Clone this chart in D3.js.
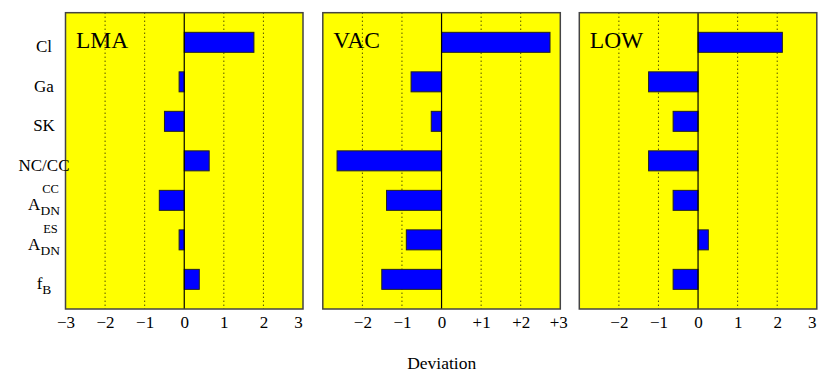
<!DOCTYPE html>
<html>
<head>
<meta charset="utf-8">
<script src="https://cdn.jsdelivr.net/npm/d3@7"></script>
<style>
  body { margin: 0; background: #fff; }
  svg text { font-family: "Liberation Serif", "DejaVu Serif", serif; fill: #000; }
</style>
</head>
<body>
<div id="chart"></div>
<script>
// data
var categories = ['Cl', 'Ga', 'SK', 'NC/CC', 'A_CC', 'A_ES', 'fB'];
var panelNames = ['LMA', 'VAC', 'LOW'];
var lmaValues = [1.76, -0.13, -0.5, 0.63, -0.63, -0.13, 0.38];
var vacValues = [2.74, -0.77, -0.26, -2.64, -1.39, -0.89, -1.51];
var lowValues = [2.13, -1.25, -0.63, -1.25, -0.63, 0.26, -0.63];
var lmaTicks = [-3, -2, -1, 0, 1, 2, 3];
var vacTicks = [-2, -1, 0, 1, 2, 3];
var lowTicks = [-2, -1, 0, 1, 2, 3];
var gridTicks = [-2, -1, 1, 2];
var xDomain = [-3, 3];

var W = 830, H = 380;
// note: "top" is taken by window.top, so plotTop
var plotTop = 12.7, plotBottom = 309;
var panelLeft = [65.5, 322.8, 579.3];
var panelW = 237.5;

var svg = d3.select('#chart').append('svg')
  .attr('width', W)
  .attr('height', H);

var y = d3.scalePoint().domain(categories).range([plotTop, plotBottom]).padding(0.75);
var barH = 20;

function fmtMinus (v) {
  return v < 0 ? '\u2212' + Math.abs(v) : String(v);
}

var panels = [
  {name: panelNames[0], values: lmaValues, ticks: lmaTicks, fmt: fmtMinus, lastDx: -5},
  {name: panelNames[1], values: vacValues, ticks: vacTicks,
    fmt: function (v) { return v > 0 ? '+' + v : fmtMinus(v); }, lastDx: -2},
  {name: panelNames[2], values: lowValues, ticks: lowTicks, fmt: fmtMinus, lastDx: -5}
];

panels.forEach(function (p, i) {
  var x = d3.scaleLinear().domain(xDomain).range([panelLeft[i], panelLeft[i] + panelW]);
  var g = svg.append('g');

  g.append('rect')
    .attr('x', x(xDomain[0]))
    .attr('y', plotTop)
    .attr('width', x(xDomain[1]) - x(xDomain[0]))
    .attr('height', plotBottom - plotTop)
    .attr('fill', '#ffff00');

  // dotted grid
  g.selectAll('line.grid').data(gridTicks).enter().append('line')
    .attr('class', 'grid')
    .attr('x1', function (d) { return x(d); })
    .attr('x2', function (d) { return x(d); })
    .attr('y1', plotTop)
    .attr('y2', plotBottom)
    .attr('stroke', '#000')
    .attr('stroke-width', 1)
    .attr('stroke-dasharray', '1,3');

  // bars
  g.selectAll('rect.bar').data(p.values).enter().append('rect')
    .attr('class', 'bar')
    .attr('x', function (d) { return x(Math.min(0, d)); })
    .attr('y', function (d, j) { return y(categories[j]) - barH / 2; })
    .attr('width', function (d) { return Math.abs(x(d) - x(0)); })
    .attr('height', barH)
    .attr('fill', '#0000ff')
    .attr('stroke', '#222')
    .attr('stroke-width', 1);

  // zero line
  g.append('line')
    .attr('x1', x(0)).attr('x2', x(0))
    .attr('y1', plotTop).attr('y2', plotBottom)
    .attr('stroke', '#000')
    .attr('stroke-width', 1.2);

  // frame
  g.append('rect')
    .attr('x', x(xDomain[0]))
    .attr('y', plotTop)
    .attr('width', x(xDomain[1]) - x(xDomain[0]))
    .attr('height', plotBottom - plotTop)
    .attr('fill', 'none')
    .attr('stroke', '#444')
    .attr('stroke-width', 1.5);

  g.append('text')
    .attr('x', x(xDomain[0]) + 10.5)
    .attr('y', 48)
    .attr('font-size', 23.5)
    .text(p.name);

  var ax = g.append('g')
    .attr('transform', 'translate(0,' + plotBottom + ')')
    .call(d3.axisBottom(x).tickValues(p.ticks).tickSize(0).tickPadding(7).tickFormat(p.fmt));
  ax.select('.domain').remove();
  ax.selectAll('text')
    .attr('font-size', 17)
    .attr('fill', '#000')
    .attr('dx', function (d, j, n) { return j === n.length - 1 ? p.lastDx : 0; });
});

// category labels with sub/superscripts
var labelParts = {
  'Cl': {base: 'Cl'},
  'Ga': {base: 'Ga'},
  'SK': {base: 'SK'},
  'NC/CC': {base: 'NC/CC'},
  'A_CC': {base: 'A', sub: 'DN', sup: 'CC'},
  'A_ES': {base: 'A', sub: 'DN', sup: 'ES'},
  'fB': {base: 'f', sub: 'B'}
};

categories.forEach(function (c) {
  var lp = labelParts[c];
  var t = svg.append('text')
    .attr('x', 44)
    .attr('y', y(c) + 10)
    .attr('text-anchor', 'middle')
    .attr('font-size', 17);
  t.append('tspan').text(lp.base);
  if (lp.sub) {
    t.append('tspan').attr('font-size', 13.5).attr('dy', 5).text(lp.sub);
  }
  if (lp.sup) {
    svg.append('text')
      .attr('x', 44 + 6.5)
      .attr('y', y(c) - 7)
      .attr('text-anchor', 'middle')
      .attr('font-size', 12.5)
      .text(lp.sup);
  }
});

svg.append('text')
  .attr('x', 441.7)
  .attr('y', 369)
  .attr('text-anchor', 'middle')
  .attr('font-size', 17.5)
  .text('Deviation');
</script>
</body>
</html>
